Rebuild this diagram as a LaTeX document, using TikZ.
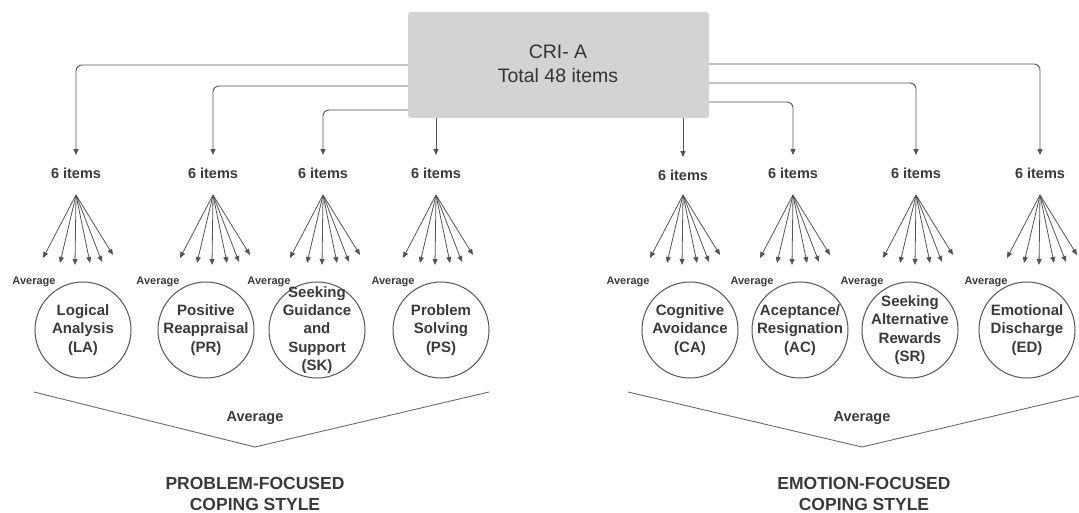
\documentclass[tikz,border=0pt]{standalone}
\usepackage{fontspec}
\setmainfont{Liberation Sans}
\usetikzlibrary{arrows.meta}
\definecolor{txt}{HTML}{3A3A3A}
\definecolor{ln}{HTML}{555555}
\definecolor{vln}{HTML}{6A6A6A}
\definecolor{boxfill}{HTML}{D3D3D3}
\begin{document}
\begin{tikzpicture}[x=1pt,y=-1pt,
  conn/.style={draw=ln, line width=0.9pt, rounded corners=6pt, shorten >=12.5pt, -{Triangle[length=6pt,width=5pt]}},
  fanarrow/.style={draw=ln, line width=0.8pt, -{Triangle[length=6pt,width=5pt]}},
  items/.style={font=\bfseries\fontsize{14.5}{17}\selectfont, text=txt, inner sep=0pt, text height=10.5pt, text depth=0pt},
  avg/.style={font=\bfseries\fontsize{11}{13}\selectfont, text=txt, inner sep=0pt},
  circ/.style={circle, draw=ln, line width=1pt, minimum size=96pt, inner sep=0pt},
  ctext/.style={font=\bfseries\fontsize{15}{18.3}\selectfont, text=txt, align=center, inner sep=0pt},
  bigavg/.style={font=\bfseries\fontsize{14.5}{17}\selectfont, text=txt, inner sep=0pt},
  title/.style={font=\bfseries\fontsize{17.5}{21}\selectfont, text=txt, align=center, inner sep=0pt},
  vline/.style={draw=vln, line width=0.9pt}
]
\useasboundingbox (0,0) rectangle (1079,513);
\clip (0,0) rectangle (1079,513);

% top box
\node[fill=boxfill, rounded corners=3pt, minimum width=301pt, minimum height=106pt, inner sep=0pt] (box) at (558.5,65) {};
\node[font=\fontsize{19.5}{24}\selectfont, text=txt!90!black, align=center, inner sep=0pt] (boxtext) at (558,64) {CRI- A\\Total 48 items};

% groups
\foreach \n/\ix/\iy/\cx/\ax/\lab in {
  1/76/173/83/34/{Logical\\Analysis\\(LA)},
  2/213/173/206/158/{Positive\\Reappraisal\\(PR)},
  3/323/173/317/269/{Seeking\\Guidance\\and\\Support\\(SK)},
  4/436/173/441/393/{Problem\\Solving\\(PS)},
  5/683/175/690/628/{Cognitive\\Avoidance\\(CA)},
  6/793/173/800/752/{Aceptance/\\Resignation\\(AC)},
  7/916/173/910/862/{Seeking\\Alternative\\Rewards\\(SR)},
  8/1040/173/1027/986/{Emotional\\Discharge\\(ED)}}{
  \node[items] (i\n) at (\ix,\iy) {6 items};
  \coordinate (f\n) at (\ix,195);
  \foreach \m/\dx/\dy in {1/-33/63, 2/-16/68, 3/-1/70, 4/14/68, 5/26/67, 6/37/60}{
    \path (f\n) ++(\dx,\dy) coordinate (e\n-\m);
    \draw[fanarrow] (f\n) -- (e\n-\m);
  }
  \node[avg] (a\n) at (\ax,282) {Average};
  \node[circ] (c\n) at (\cx,330) {};
  \node[ctext] (t\n) at (c\n) {\lab};
}

% connectors from box
\draw[conn] (box.west |- 0,65) -| (i1);
\draw[conn] (box.west |- 0,86) -| (i2);
\draw[conn] (box.west |- 0,110) -| (i3);
\draw[conn] (box.south -| i4) -- (i4);
\draw[conn] (box.south -| i5) -- (i5);
\draw[conn] (box.east |- 0,102) -| (i6);
\draw[conn] (box.east |- 0,83) -| (i7);
\draw[conn] (box.east |- 0,64) -| (i8);

% averaging V lines
\coordinate (pl1) at (34,392);
\coordinate (pl2) at (255,447);
\coordinate (pl3) at (489,392);
\coordinate (el1) at (628,392);
\coordinate (el2) at (862,447);
\coordinate (el3) at (1096,392);
\draw[vline] (pl1) -- (pl2) -- (pl3);
\draw[vline] (el1) -- (el2) -- (el3);
\node[bigavg] (pavg) at (255,418) {Average};
\node[bigavg] (eavg) at (862,418) {Average};

% titles
\node[title] (ptitle) at (255,493.5) {PROBLEM-FOCUSED\\COPING STYLE};
\node[title] (etitle) at (864,493.5) {EMOTION-FOCUSED\\COPING STYLE};
\end{tikzpicture}
\end{document}
